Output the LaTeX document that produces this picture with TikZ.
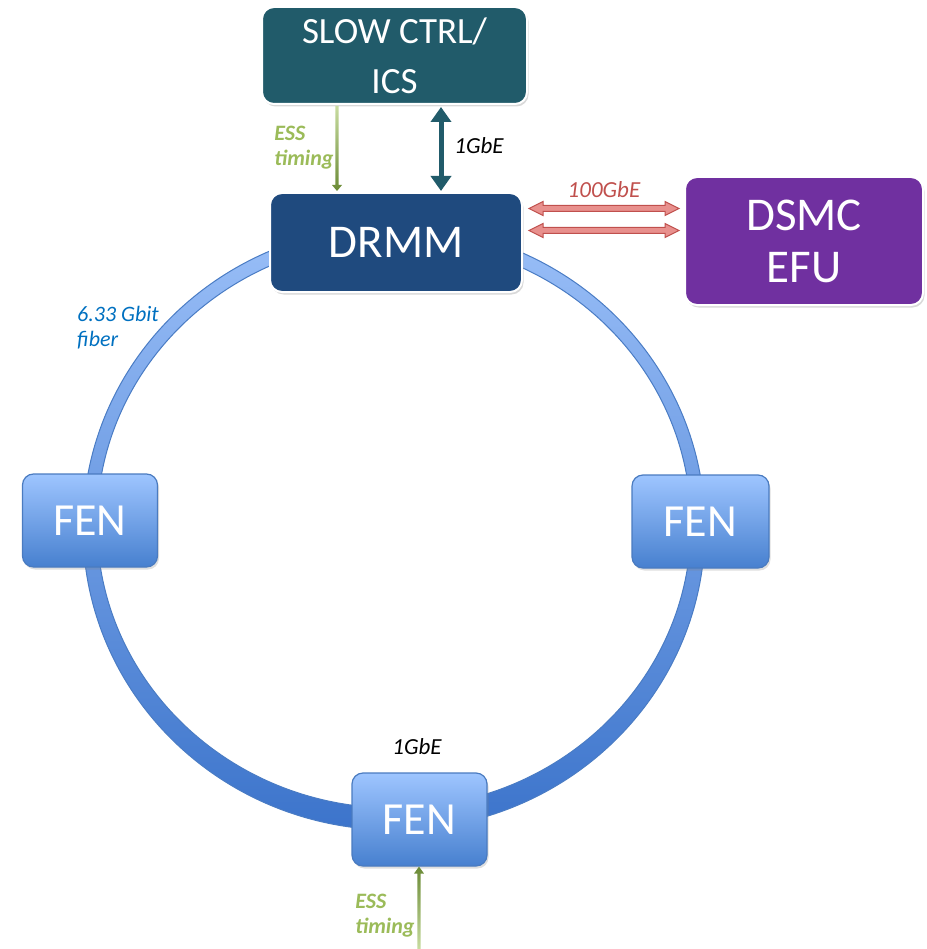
\documentclass[tikz,border=0pt]{standalone}
\usepackage{fontspec}
\setmainfont{Carlito}
\usetikzlibrary{shadows,calc,arrows.meta}
\definecolor{slowc}{HTML}{215B6A}
\definecolor{drmmc}{HTML}{1F4A7E}
\definecolor{dsmcc}{HTML}{7030A0}
\definecolor{ringtop}{HTML}{9ABFF8}
\definecolor{ringbot}{HTML}{3C74CB}
\definecolor{ringedge}{HTML}{4A7CC4}
\definecolor{fentop}{HTML}{9EC5FF}
\definecolor{fenbot}{HTML}{4780CF}
\definecolor{fenedge}{HTML}{4A7BC0}
\definecolor{essc}{HTML}{9BBB59}
\definecolor{essdark}{HTML}{6A8A35}
\definecolor{esslight}{HTML}{C8DCA0}
\definecolor{redc}{HTML}{C0504D}
\definecolor{redfill}{HTML}{E8908D}
\definecolor{fiberc}{HTML}{0070C0}
\begin{document}
\begin{tikzpicture}[x=1pt,y=-1pt,
  box/.style={rounded corners=12pt, draw=white, line width=2pt, text=white,
    inner sep=0pt, align=center,
    drop shadow={shadow xshift=1.5pt,shadow yshift=-2.5pt,opacity=0.3}},
  fen/.style={rounded corners=11pt, draw=fenedge, line width=1.2pt,
    top color=fentop, bottom color=fenbot, text=white,
    minimum width=135pt, minimum height=93pt, inner sep=0pt,
    font=\fontsize{46}{52}\selectfont,
    drop shadow={shadow xshift=1.5pt,shadow yshift=-2.5pt,opacity=0.25}},
  lab/.style={inner sep=0pt, font=\fontsize{23}{25}\selectfont\itshape, align=left},
  esslab/.style={lab, font=\fontsize{22}{25}\selectfont\bfseries\itshape, text=essc}]
\useasboundingbox (0,0) rectangle (926,949);
% ring
\shade[top color=ringtop, bottom color=ringbot, even odd rule]
  (394,528) ellipse (311 and 302) (394,524) ellipse (297 and 284);
\draw[ringedge, line width=1pt] (394,528) ellipse (311 and 302);
\draw[ringedge, line width=1pt] (394,524) ellipse (297 and 284);
% nodes
\node[box, fill=slowc, minimum width=265pt, minimum height=97pt,
  font=\fontsize{37}{50}\selectfont] (slow) at (394.5,55.5) {SLOW CTRL/\\ICS};
\node[box, fill=drmmc, minimum width=252pt, minimum height=99pt,
  font=\fontsize{47}{52}\selectfont] (drmm) at (396,242.5) {DRMM};
\node[box, fill=dsmcc, minimum width=238pt, minimum height=128pt,
  font=\fontsize{47}{52}\selectfont] (dsmc) at (804,241) {DSMC\\EFU};
\node[fen] (fenL) at (90,520.5) {FEN};
\node[fen, minimum width=137pt] (fenR) at (700.5,521.5) {FEN};
\node[fen] (fenB) at (419.5,819.5) {FEN};
% ESS timing top
\coordinate (e1) at (337,0);
\shade[top color=esslight, bottom color=essdark]
  ($(slow.south -| e1)+(-1.6,1)$) -- ($(slow.south -| e1)+(1.6,1)$)
  -- ($(drmm.north -| e1)+(1.6,-7)$) -- ($(drmm.north -| e1)+(5,-7)$)
  -- ($(drmm.north -| e1)+(0,-1)$) -- ($(drmm.north -| e1)+(-5,-7)$)
  -- ($(drmm.north -| e1)+(-1.6,-7)$) -- cycle;
\node[esslab] (ess1) at (304,148) {ESS\\timing};
% 1GbE top
\coordinate (g1) at (441,0);
\draw[slowc, line width=5pt,
  {Triangle[width=20pt,length=15pt]}-{Triangle[width=20pt,length=15pt]}]
  ($(slow.south -| g1)+(0,2)$) -- ($(drmm.north -| g1)+(0,-1)$);
\node[lab] (l1) at (479,146) {1GbE};
% 100GbE
\foreach \yy/\nm in {208.5/a1, 230.5/a2}{
  \coordinate (\nm) at (0,\yy);
  \filldraw[fill=redfill, draw=redc, line width=1pt]
    ($(drmm.east |- \nm)+(6,0)$) -- ++(14,-7) -- ++(0,4) -- ($(dsmc.west |- \nm)+(-19,-3)$)
    -- ++(0,-4) -- ($(dsmc.west |- \nm)+(-5,0)$) -- ++(-14,7) -- ++(0,-4)
    -- ($(drmm.east |- \nm)+(20,3)$) -- ++(0,4) -- cycle;
}
\node[lab, text=redc] (l100) at (604,190) {100GbE};
% fiber label
\node[lab, text=fiberc, anchor=west, font=\fontsize{22}{25}\selectfont\itshape] (fib) at (77,328) {6.33 Gbit\\fiber};
% bottom
\node[lab] (l2) at (417,747) {1GbE};
\coordinate (e2) at (419,949);
\shade[top color=essdark, bottom color=esslight]
  ($(e2)+(-1.6,0)$) -- ($(e2)+(1.6,0)$)
  -- ($(fenB.south -| e2)+(1.6,7)$) -- ($(fenB.south -| e2)+(5,7)$)
  -- ($(fenB.south -| e2)+(0,0)$) -- ($(fenB.south -| e2)+(-5,7)$)
  -- ($(fenB.south -| e2)+(-1.6,7)$) -- cycle;
\node[esslab] (ess2) at (385,916) {ESS\\timing};
\end{tikzpicture}
\end{document}
